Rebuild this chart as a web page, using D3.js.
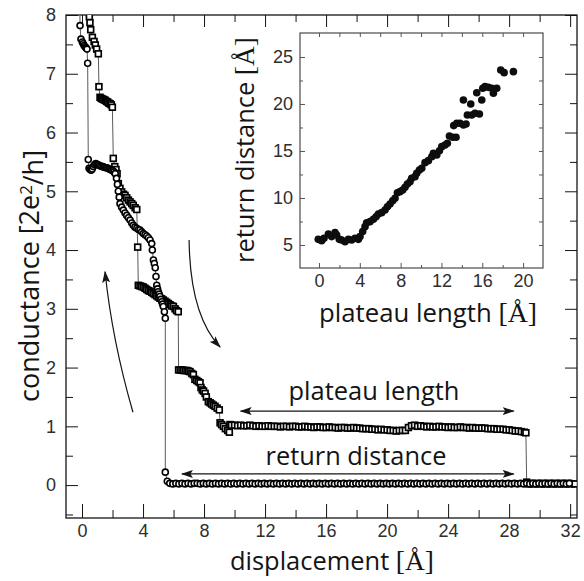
<!DOCTYPE html>
<html>
<head>
<meta charset="utf-8">
<script src="https://cdn.jsdelivr.net/npm/d3@7"></script>
<style>
  body { margin: 0; background: #fff; }
</style>
</head>
<body>
<svg id="chart" width="584" height="581"></svg>
<script>
// ---------- main panel: conductance traces ----------
const xTicksMain = [0, 4, 8, 12, 16, 20, 24, 28, 32];
const xMinorMain = [2, 6, 10, 14, 18, 22, 26, 30];
const yTicksMain = [0, 1, 2, 3, 4, 5, 6, 7, 8];
const yMinorMain = [-0.5, 0.5, 1.5, 2.5, 3.5, 4.5, 5.5, 6.5, 7.5];

// trace drawn with open circles [displacement Å, G in 2e²/h]
const circleTrace = [
  [-0.15, 8.4], [-0.13, 7.82], [-0.07, 7.59], [0.02, 7.54], [0.08, 7.51], [0.14, 7.48],
  [0.2, 7.46], [0.27, 7.44], [0.33, 7.42], [0.37, 7.18], [0.41, 5.54], [0.46, 5.39],
  [0.53, 5.37], [0.6, 5.36], [0.67, 5.38], [0.74, 5.42], [0.82, 5.45], [0.9, 5.47],
  [0.98, 5.46], [1.06, 5.45], [1.14, 5.44], [1.22, 5.43], [1.3, 5.42], [1.38, 5.42],
  [1.46, 5.41], [1.54, 5.4], [1.62, 5.4], [1.7, 5.39], [1.78, 5.38], [1.86, 5.37],
  [1.94, 5.36], [2.02, 5.35], [2.1, 5.33], [2.18, 5.3], [2.26, 5.22], [2.32, 5.12],
  [2.38, 5.0], [2.44, 4.9], [2.49, 4.79], [2.6, 4.73], [2.71, 4.68], [2.82, 4.63],
  [2.93, 4.59], [3.04, 4.55], [3.15, 4.51], [3.26, 4.46], [3.36, 4.42], [3.47, 4.39],
  [3.59, 4.37], [3.7, 4.35], [3.8, 4.34], [3.91, 4.31], [4.02, 4.28], [4.13, 4.26],
  [4.24, 4.24], [4.35, 4.21], [4.46, 4.17], [4.57, 4.11], [4.61, 4.0], [4.68, 3.83],
  [4.74, 3.77], [4.8, 3.7], [4.85, 3.55], [4.9, 3.4], [4.95, 3.34], [5.0, 3.29],
  [5.06, 3.25], [5.11, 3.21], [5.17, 3.16], [5.23, 3.12], [5.28, 3.08], [5.33, 3.04],
  [5.4, 2.95], [5.46, 2.84], [5.46, 0.22], [5.59, 0.065],
  [5.75, 0.03], [5.95, 0.02], [6.15, 0.03], [6.35, 0.02], [6.55, 0.03], [6.75, 0.02],
  [6.95, 0.03], [7.15, 0.02], [7.35, 0.03], [7.55, 0.03], [7.75, 0.02], [7.95, 0.03],
  [8.15, 0.02], [8.35, 0.03], [8.55, 0.02], [8.75, 0.03], [8.95, 0.02], [9.15, 0.03],
  [9.35, 0.02], [9.55, 0.03], [9.75, 0.02], [9.95, 0.03], [10.15, 0.02], [10.35, 0.03],
  [10.55, 0.02], [10.75, 0.03], [10.95, 0.02], [11.15, 0.03], [11.35, 0.02], [11.55, 0.03],
  [11.75, 0.02], [11.95, 0.03], [12.15, 0.02], [12.35, 0.03], [12.55, 0.02], [12.75, 0.03],
  [12.95, 0.02], [13.15, 0.03], [13.35, 0.02], [13.55, 0.03], [13.75, 0.02], [13.95, 0.03],
  [14.15, 0.02], [14.35, 0.03], [14.55, 0.02], [14.75, 0.03], [14.95, 0.02], [15.15, 0.03],
  [15.35, 0.02], [15.55, 0.03], [15.75, 0.02], [15.95, 0.03], [16.15, 0.02], [16.35, 0.03],
  [16.55, 0.02], [16.75, 0.03], [16.95, 0.02], [17.15, 0.03], [17.35, 0.02], [17.55, 0.03],
  [17.75, 0.02], [17.95, 0.03], [18.15, 0.02], [18.35, 0.03], [18.55, 0.02], [18.75, 0.03],
  [18.95, 0.02], [19.15, 0.03], [19.35, 0.02], [19.55, 0.03], [19.75, 0.02], [19.95, 0.03],
  [20.15, 0.02], [20.35, 0.03], [20.55, 0.02], [20.75, 0.03], [20.95, 0.02], [21.15, 0.03],
  [21.35, 0.02], [21.55, 0.03], [21.75, 0.02], [21.95, 0.03], [22.15, 0.02], [22.35, 0.03],
  [22.55, 0.02], [22.75, 0.03], [22.95, 0.02], [23.15, 0.03], [23.35, 0.02], [23.55, 0.03],
  [23.75, 0.02], [23.95, 0.03], [24.15, 0.02], [24.35, 0.03], [24.55, 0.02], [24.75, 0.03],
  [24.95, 0.02], [25.15, 0.03], [25.35, 0.02], [25.55, 0.03], [25.75, 0.02], [25.95, 0.03],
  [26.15, 0.02], [26.35, 0.03], [26.55, 0.02], [26.75, 0.03], [26.95, 0.02], [27.15, 0.03],
  [27.35, 0.02], [27.55, 0.03], [27.75, 0.02], [27.95, 0.03], [28.15, 0.02], [28.35, 0.03],
  [28.55, 0.02], [28.75, 0.03], [28.95, 0.02], [29.15, 0.03], [29.35, 0.02], [29.55, 0.03],
  [29.75, 0.02], [29.95, 0.03], [30.15, 0.02], [30.35, 0.03], [30.55, 0.02], [30.75, 0.03],
  [30.95, 0.02], [31.15, 0.03], [31.35, 0.02], [31.55, 0.03], [31.75, 0.02], [31.95, 0.03]
];

// trace drawn with open squares [displacement Å, G in 2e²/h]
const squareTrace = [
  [0.45, 8.3], [0.48, 7.97], [0.52, 7.87], [0.57, 7.75], [0.68, 7.62], [0.79, 7.55],
  [0.87, 7.49], [0.96, 7.42], [1.07, 7.34], [1.11, 6.78], [1.18, 6.6], [1.26, 6.58],
  [1.35, 6.57], [1.43, 6.56], [1.51, 6.55], [1.6, 6.53], [1.68, 6.52], [1.76, 6.5],
  [1.84, 6.49], [1.92, 6.47], [1.99, 6.43], [2.05, 5.56], [2.15, 5.42], [2.23, 5.37],
  [2.3, 5.3], [2.38, 5.13], [2.49, 5.05], [2.6, 4.99], [2.72, 4.95], [2.82, 4.93],
  [2.93, 4.89], [3.04, 4.85], [3.15, 4.82], [3.26, 4.79], [3.36, 4.76], [3.48, 4.72],
  [3.59, 4.69], [3.65, 4.05], [3.69, 3.4], [3.8, 3.39], [3.91, 3.38], [4.02, 3.37],
  [4.13, 3.35], [4.24, 3.33], [4.35, 3.31], [4.46, 3.3], [4.57, 3.28], [4.68, 3.26],
  [4.79, 3.24], [4.9, 3.22], [5.0, 3.2], [5.11, 3.18], [5.22, 3.17], [5.33, 3.15],
  [5.44, 3.13], [5.55, 3.11], [5.66, 3.09], [5.77, 3.07], [5.88, 3.05], [5.99, 3.04],
  [6.1, 3.0], [6.2, 2.97], [6.31, 2.95], [6.33, 1.96], [6.44, 1.96], [6.55, 1.96],
  [6.66, 1.95], [6.77, 1.95], [6.88, 1.95], [6.98, 1.94], [7.08, 1.93], [7.2, 1.9],
  [7.3, 1.88], [7.4, 1.8], [7.52, 1.78], [7.63, 1.76], [7.74, 1.74], [7.8, 1.66],
  [7.88, 1.62], [7.97, 1.6], [8.07, 1.56], [8.15, 1.5], [8.28, 1.42], [8.4, 1.4],
  [8.5, 1.38], [8.61, 1.36], [8.72, 1.34], [8.86, 1.31], [9.0, 1.28], [9.05, 1.06],
  [9.15, 1.03], [9.27, 1.0], [9.4, 0.96], [9.55, 0.93], [9.66, 0.9], [9.7, 1.03],
  [9.8, 1.02], [10.0, 1.02], [10.2, 1.01], [10.4, 1.02], [10.6, 1.01], [10.8, 1.01],
  [11.0, 1.02], [11.2, 1.01], [11.4, 1.0], [11.6, 1.01], [11.8, 1.0], [12.0, 1.0],
  [12.2, 1.01], [12.4, 1.0], [12.6, 1.0], [12.8, 1.0], [13.0, 0.99], [13.2, 1.0],
  [13.4, 1.0], [13.6, 0.99], [13.8, 1.0], [14.0, 1.0], [14.2, 0.99], [14.4, 0.99],
  [14.6, 1.0], [14.8, 0.99], [15.0, 0.99], [15.2, 0.98], [15.4, 0.99], [15.6, 0.99],
  [15.8, 0.98], [16.0, 0.98], [16.2, 0.99], [16.4, 0.98], [16.6, 0.98], [16.8, 0.97],
  [17.0, 0.98], [17.2, 0.98], [17.4, 0.97], [17.6, 0.97], [17.8, 0.98], [18.0, 0.97],
  [18.2, 0.97], [18.4, 0.96], [18.6, 0.96], [18.8, 0.96], [19.0, 0.95], [19.2, 0.95],
  [19.4, 0.94], [19.6, 0.95], [19.8, 0.94], [20.0, 0.94], [20.2, 0.93], [20.4, 0.93],
  [20.6, 0.92], [20.8, 0.93], [21.0, 0.93], [21.2, 0.93], [21.4, 0.98], [21.6, 1.01],
  [21.8, 1.02], [22.0, 1.0], [22.2, 1.01], [22.4, 1.0], [22.6, 0.99], [22.8, 1.0],
  [23.0, 0.99], [23.2, 0.99], [23.4, 1.0], [23.6, 0.99], [23.8, 0.99], [24.0, 0.98],
  [24.2, 0.99], [24.4, 0.98], [24.6, 0.98], [24.8, 0.99], [25.0, 0.98], [25.2, 0.98],
  [25.4, 0.97], [25.6, 0.98], [25.8, 0.97], [26.0, 0.97], [26.2, 0.97], [26.4, 0.97],
  [26.6, 0.96], [26.8, 0.96], [27.0, 0.96], [27.2, 0.95], [27.4, 0.95], [27.6, 0.95],
  [27.8, 0.94], [28.0, 0.94], [28.2, 0.93], [28.4, 0.92], [28.6, 0.92], [28.8, 0.91],
  [29.0, 0.9], [29.1, 0.89], [29.15, 0.05],
  [29.3, 0.02], [29.5, 0.03], [29.7, 0.02], [29.9, 0.03], [30.1, 0.02], [30.3, 0.03],
  [30.5, 0.02], [30.7, 0.03], [30.9, 0.02], [31.1, 0.03], [31.3, 0.02], [31.5, 0.03],
  [31.7, 0.02], [31.9, 0.03], [32.1, 0.02], [32.3, 0.02]
];

// annotation arrows (data units)
const plateauArrow = { x0: 10.4, x1: 28.3, y: 1.26 };
const returnArrow = { x0: 6.55, x1: 28.3, y: 0.19 };
const leftCurve = [[3.34, 1.24], [1.97, 2.47], [1.51, 3.63]];
const rightCurve = [[7.02, 4.17], [7.08, 2.89], [9.05, 2.35]];

// ---------- inset: return distance vs plateau length ----------
const xTicksInset = [0, 4, 8, 12, 16, 20];
const xMinorInset = [2, 6, 10, 14, 18];
const yTicksInset = [5, 10, 15, 20, 25];
const yMinorInset = [7.5, 12.5, 17.5, 22.5];

const plateauLength = [
  -0.07, 0.26, 0.49, 0.92, 1.24, 1.57, 1.73, 1.99, 2.22, 2.55, 2.88, 3.2, 3.53, 3.86,
  4.02, 4.28, 4.51, 4.67, 5.0, 5.33, 5.59, 5.82, 6.14, 6.47, 6.7, 6.96, 7.22, 7.45,
  7.68, 7.94, 8.2, 8.43, 8.66, 8.92, 9.08, 9.41, 9.58, 9.84, 10.07, 10.39, 10.72, 11.05,
  11.21, 11.54, 11.8, 12.03, 12.35, 12.58, 12.78, 13.1, 13.43, 13.2, 13.5, 13.82, 14.15,
  14.41, 14.15, 14.54, 14.87, 14.97, 15.29, 15.46, 15.72, 15.95, 16.05, 16.27, 16.6,
  16.93, 17.09, 17.42, 17.81, 18.14, 19.05
];
const returnDistance = [
  5.6, 5.46, 5.71, 6.17, 5.89, 6.31, 6.06, 5.6, 5.53, 5.35, 5.6, 5.53, 5.71, 5.6,
  5.89, 6.42, 6.95, 7.37, 7.48, 7.73, 8.01, 8.3, 8.44, 8.72, 9.07, 9.36, 9.71, 9.97,
  10.56, 10.67, 10.85, 11.14, 11.49, 11.73, 12.09, 12.27, 12.63, 12.98, 13.16, 13.76, 13.97, 14.39,
  14.76, 14.57, 15.03, 15.46, 15.64, 15.82, 16.6, 16.46, 16.46, 17.7, 17.95, 17.95, 17.77,
  17.87, 20.43, 18.83, 20.0, 18.83, 19.01, 21.2, 18.94, 20.43, 21.67, 21.84, 21.77,
  21.67, 21.14, 21.67, 23.62, 23.33, 23.44
];

// ---------- layout ----------
const svg = d3.select("#chart");
const M = { left: 66, right: 577, top: 15, bottom: 518 };
const I = { left: 300, right: 543, top: 33, bottom: 268 };

const x = d3.scaleLinear().domain([-1.05, 32.45]).range([M.left, M.right]);
const y = d3.scaleLinear().domain([-0.56, 8.0]).range([M.bottom, M.top]);
const xi = d3.scaleLinear().domain([-1.86, 21.95]).range([I.left, I.right]);
const yi = d3.scaleLinear().domain([2.55, 27.55]).range([I.bottom, I.top]);

const tickFont = "'Liberation Sans', Arial, sans-serif";
const titleFont = "'Open Sans', 'Noto Sans', sans-serif";
const serifFont = "'Liberation Serif', 'DejaVu Serif', serif";
const ink = "#141414";

const defs = svg.append("defs");
defs.append("clipPath").attr("id", "mainClip")
  .append("rect").attr("x", M.left).attr("y", M.top)
  .attr("width", M.right - M.left).attr("height", M.bottom - M.top);
defs.append("marker").attr("id", "head")
  .attr("viewBox", "0 0 12 8").attr("refX", 11).attr("refY", 4)
  .attr("markerWidth", 12).attr("markerHeight", 8)
  .attr("markerUnits", "userSpaceOnUse")
  .attr("orient", "auto-start-reverse")
  .append("path").attr("d", "M0,0 L12,4 L0,8 L2.5,4 Z").attr("fill", ink);

function styleAxis(g, size, color) {
  g.select(".domain").remove();
  g.selectAll(".tick line").attr("stroke", color).attr("stroke-width", 1);
  g.selectAll(".tick text")
    .attr("font-family", tickFont).attr("font-size", size).attr("fill", "#2e2e2e");
}

// scale a title's font so that its rendered length is `len` px
function fitLength(sel, len) {
  const base = parseFloat(sel.attr("font-size"));
  const w = sel.node().getComputedTextLength();
  sel.attr("font-size", (base * len / w).toFixed(2));
  return sel.node().getComputedTextLength();
}

// main axes: ticks point inward on all four sides
const gx = svg.append("g").attr("transform", `translate(0,${M.bottom})`)
  .call(d3.axisBottom(x).tickValues(xTicksMain).tickSize(-14).tickPadding(6).tickFormat(d3.format("d")));
styleAxis(gx, 18, ink);
svg.append("g").attr("transform", `translate(0,${M.bottom})`)
  .call(d3.axisBottom(x).tickValues(xMinorMain).tickSize(-8).tickFormat(""))
  .call(g => styleAxis(g, 0, ink));
svg.append("g").attr("transform", `translate(0,${M.top})`)
  .call(d3.axisTop(x).tickValues(xTicksMain).tickSize(-12).tickFormat(""))
  .call(g => styleAxis(g, 0, ink));
svg.append("g").attr("transform", `translate(0,${M.top})`)
  .call(d3.axisTop(x).tickValues(xMinorMain).tickSize(-7).tickFormat(""))
  .call(g => styleAxis(g, 0, ink));

const gy = svg.append("g").attr("transform", `translate(${M.left},0)`)
  .call(d3.axisLeft(y).tickValues(yTicksMain).tickSize(-12).tickPadding(10).tickFormat(d3.format("d")));
styleAxis(gy, 18, ink);
svg.append("g").attr("transform", `translate(${M.left},0)`)
  .call(d3.axisLeft(y).tickValues(yMinorMain).tickSize(-7).tickFormat(""))
  .call(g => styleAxis(g, 0, ink));
svg.append("g").attr("transform", `translate(${M.right},0)`)
  .call(d3.axisRight(y).tickValues(yTicksMain).tickSize(-12).tickFormat(""))
  .call(g => styleAxis(g, 0, ink));
svg.append("g").attr("transform", `translate(${M.right},0)`)
  .call(d3.axisRight(y).tickValues(yMinorMain).tickSize(-7).tickFormat(""))
  .call(g => styleAxis(g, 0, ink));

svg.append("rect").attr("x", M.left).attr("y", M.top)
  .attr("width", M.right - M.left).attr("height", M.bottom - M.top)
  .attr("fill", "none").attr("stroke", ink).attr("stroke-width", 1.3);

// traces
const plot = svg.append("g").attr("clip-path", "url(#mainClip)");
const line = d3.line().x(d => x(d[0])).y(d => y(d[1]));
plot.append("path").datum(circleTrace).attr("d", line)
  .attr("fill", "none").attr("stroke", "#5a5a5a").attr("stroke-width", 1);
plot.append("path").datum(squareTrace).attr("d", line)
  .attr("fill", "none").attr("stroke", "#5a5a5a").attr("stroke-width", 1);

plot.append("g").selectAll("rect").data(squareTrace).join("rect")
  .attr("x", d => x(d[0]) - 2.9).attr("y", d => y(d[1]) - 2.9)
  .attr("width", 5.8).attr("height", 5.8)
  .attr("fill", "#fff").attr("stroke", "#000").attr("stroke-width", 1.7);
plot.append("g").selectAll("circle").data(circleTrace).join("circle")
  .attr("cx", d => x(d[0])).attr("cy", d => y(d[1])).attr("r", 3.0)
  .attr("fill", "#fff").attr("stroke", "#000").attr("stroke-width", 1.6);

// annotations
function hArrow(a) {
  svg.append("line")
    .attr("x1", x(a.x0)).attr("x2", x(a.x1)).attr("y1", y(a.y)).attr("y2", y(a.y))
    .attr("stroke", ink).attr("stroke-width", 1.2)
    .attr("marker-start", "url(#head)").attr("marker-end", "url(#head)");
}
hArrow(plateauArrow);
hArrow(returnArrow);

function curve(pts) {
  const p = pts.map(d => [x(d[0]), y(d[1])]);
  svg.append("path")
    .attr("d", `M${p[0][0]},${p[0][1]} Q${p[1][0]},${p[1][1]} ${p[2][0]},${p[2][1]}`)
    .attr("fill", "none").attr("stroke", ink).attr("stroke-width", 1.2)
    .attr("marker-end", "url(#head)");
}
curve(leftCurve);
curve(rightCurve);

const lblPlateau = svg.append("text").attr("x", 374).attr("y", 400)
  .attr("text-anchor", "middle").attr("font-family", titleFont).attr("font-size", 23)
  .attr("fill", ink).text("plateau length");
fitLength(lblPlateau, 171);
const lblReturn = svg.append("text").attr("x", 356).attr("y", 465)
  .attr("text-anchor", "middle").attr("font-family", titleFont).attr("font-size", 23)
  .attr("fill", ink).text("return distance");
fitLength(lblReturn, 181);

// main axis titles
const xt = svg.append("text").attr("x", 332).attr("y", 570)
  .attr("text-anchor", "middle").attr("font-family", titleFont).attr("font-size", 25).attr("fill", ink);
xt.append("tspan").text("displacement ");
xt.append("tspan").attr("font-family", serifFont).attr("font-size", "1.08em").text("[Å]");
fitLength(xt, 204);

// vertical titles: start-anchored, placed so the text is centred on cy
function verticalTitle(bx, cy, len, parts) {
  const t = svg.append("text").attr("text-anchor", "start")
    .attr("font-family", titleFont).attr("font-size", 24).attr("fill", ink);
  parts(t);
  const w = fitLength(t, len);
  t.attr("transform", `translate(${bx},${cy + w / 2}) rotate(-90)`);
  return t;
}
verticalTitle(39, 276, 252, t => {
  t.append("tspan").text("conductance [2e");
  t.append("tspan").attr("dy", "-0.4em").attr("font-size", "0.62em").text("2");
  t.append("tspan").attr("dy", "0.4em").text("/h]");
});

// ---------- inset ----------
svg.append("rect").attr("x", I.left).attr("y", I.top)
  .attr("width", I.right - I.left).attr("height", I.bottom - I.top).attr("fill", "#fff");

const ixa = svg.append("g").attr("transform", `translate(0,${I.bottom})`)
  .call(d3.axisBottom(xi).tickValues(xTicksInset).tickSize(-5).tickPadding(6).tickFormat(d3.format("d")));
styleAxis(ixa, 18, "#555");
svg.append("g").attr("transform", `translate(0,${I.bottom})`)
  .call(d3.axisBottom(xi).tickValues(xMinorInset).tickSize(-3).tickFormat(""))
  .call(g => styleAxis(g, 0, "#555"));
svg.append("g").attr("transform", `translate(0,${I.top})`)
  .call(d3.axisTop(xi).tickValues(xTicksInset.concat(xMinorInset)).tickSize(-4).tickFormat(""))
  .call(g => styleAxis(g, 0, "#555"));
const iya = svg.append("g").attr("transform", `translate(${I.left},0)`)
  .call(d3.axisLeft(yi).tickValues(yTicksInset).tickSize(-5).tickPadding(7).tickFormat(d3.format("d")));
styleAxis(iya, 18, "#555");
svg.append("g").attr("transform", `translate(${I.left},0)`)
  .call(d3.axisLeft(yi).tickValues(yMinorInset).tickSize(-3).tickFormat(""))
  .call(g => styleAxis(g, 0, "#555"));
svg.append("g").attr("transform", `translate(${I.right},0)`)
  .call(d3.axisRight(yi).tickValues(yTicksInset.concat(yMinorInset)).tickSize(-4).tickFormat(""))
  .call(g => styleAxis(g, 0, "#555"));

svg.append("rect").attr("x", I.left).attr("y", I.top)
  .attr("width", I.right - I.left).attr("height", I.bottom - I.top)
  .attr("fill", "none").attr("stroke", "#4a4a4a").attr("stroke-width", 1.2);

svg.append("g").selectAll("circle").data(d3.zip(plateauLength, returnDistance)).join("circle")
  .attr("cx", d => xi(d[0])).attr("cy", d => yi(d[1])).attr("r", 3.8)
  .attr("fill", "#0d0d0d");

const ixt = svg.append("text").attr("x", 428).attr("y", 322)
  .attr("text-anchor", "middle").attr("font-family", titleFont).attr("font-size", 24).attr("fill", ink);
ixt.append("tspan").text("plateau length ");
ixt.append("tspan").attr("font-family", serifFont).attr("font-size", "1.08em").text("[Å]");
fitLength(ixt, 218);

verticalTitle(254, 150, 226, t => {
  t.append("tspan").text("return distance ");
  t.append("tspan").attr("font-family", serifFont).attr("font-size", "1.08em").text("[Å]");
});
</script>
</body>
</html>
